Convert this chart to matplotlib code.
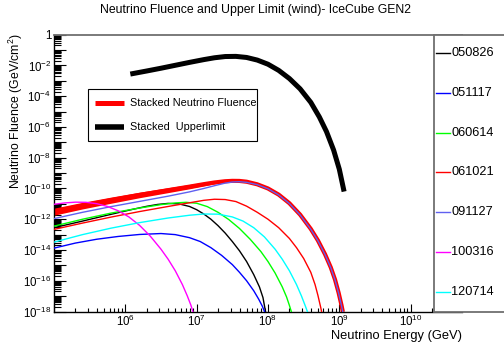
import numpy as np
import matplotlib
import matplotlib.pyplot as plt
from matplotlib.lines import Line2D
from matplotlib.patches import Rectangle
from matplotlib.ticker import FixedLocator, LogLocator, FuncFormatter, NullFormatter

plt.rcParams['font.family'] = ['Liberation Sans', 'DejaVu Sans']
plt.rcParams['mathtext.fontset'] = 'custom'
plt.rcParams['mathtext.rm'] = 'Liberation Sans'
plt.rcParams['mathtext.it'] = 'Liberation Sans'

# ================= data (log10 E [GeV], log10 E^2 dN/dE [GeV/cm^2]) =================
grb_names = ['050826', '051117', '060614', '061021', '091127', '100316', '120714']
grb_colors = ['#000000', '#0000ff', '#00ff00', '#ff0000', '#6060f0', '#ff00ff', '#00ffff']

logE_050826 = [5.0, 5.4, 5.8, 6.1, 6.3, 6.45, 6.6, 6.75, 6.9, 7.0, 7.1, 7.2, 7.3, 7.4, 7.5, 7.6,
               7.7, 7.8, 7.88, 7.93, 7.965]
logF_050826 = [-12.55, -12.12, -11.68, -11.36, -11.16, -11.04, -10.97, -11.0, -11.17, -11.38, -11.66,
               -12.0, -12.42, -12.9, -13.45, -14.05, -14.75, -15.6, -16.4, -17.1, -18.0]

logE_051117 = [5.0, 5.3, 5.6, 5.9, 6.2, 6.5, 6.7, 6.9, 7.05, 7.2, 7.35, 7.5, 7.6, 7.7, 7.8, 7.87, 7.92, 7.955]
logF_051117 = [-13.88, -13.55, -13.3, -13.12, -12.99, -12.93, -13.0, -13.2, -13.45, -13.85, -14.35,
               -14.95, -15.45, -16.0, -16.65, -17.2, -17.65, -18.05]

logE_060614 = [5.0, 5.4, 5.8, 6.2, 6.5, 6.7, 6.85, 7.0, 7.15, 7.3, 7.45, 7.6, 7.75, 7.9, 8.0, 8.1,
               8.2, 8.26, 8.3, 8.33]
logF_060614 = [-12.45, -12.0, -11.6, -11.27, -11.05, -10.94, -10.9, -10.96, -11.18, -11.55, -12.02,
               -12.6, -13.3, -14.1, -14.75, -15.5, -16.4, -17.05, -17.6, -18.05]

logE_061021 = [5.0, 5.4, 5.8, 6.2, 6.6, 6.9, 7.1, 7.25, 7.4, 7.55, 7.7, 7.85, 8.0, 8.15, 8.3, 8.4,
               8.5, 8.6, 8.66, 8.7, 8.74, 8.755]
logF_061021 = [-12.66, -12.25, -11.86, -11.5, -11.17, -10.93, -10.77, -10.7, -10.72, -10.85, -11.15,
               -11.55, -12.0, -12.55, -13.25, -13.85, -14.55, -15.45, -16.25, -16.95, -17.75, -18.1]

logE_091127 = [5.0, 5.4, 5.8, 6.2, 6.6, 6.9, 7.1, 7.25, 7.4, 7.5, 7.6, 7.7, 7.85, 8.0, 8.15, 8.3,
               8.45, 8.6, 8.7, 8.8, 8.88, 8.94, 8.99, 9.03, 9.05]
logF_091127 = [-11.96, -11.55, -11.18, -10.84, -10.5, -10.22, -10.0, -9.82, -9.65, -9.58, -9.56, -9.6,
               -9.75, -10.02, -10.42, -10.98, -11.72, -12.65, -13.4, -14.3, -15.15, -15.95, -16.8,
               -17.6, -18.05]

logE_100316 = [5.0, 5.15, 5.3, 5.45, 5.6, 5.75, 5.9, 6.05, 6.2, 6.35, 6.5, 6.6, 6.7, 6.8, 6.87, 6.92, 6.95]
logF_100316 = [-11.03, -10.94, -10.89, -10.9, -10.99, -11.17, -11.45, -11.85, -12.4, -13.1, -13.95,
               -14.6, -15.35, -16.25, -17.0, -17.6, -18.05]

logE_120714 = [5.0, 5.4, 5.8, 6.2, 6.6, 6.9, 7.1, 7.3, 7.5, 7.65, 7.8, 7.95, 8.1, 8.2, 8.3, 8.4,
               8.47, 8.52, 8.56]
logF_120714 = [-13.49, -13.0, -12.58, -12.22, -11.92, -11.74, -11.66, -11.67, -11.85, -12.12, -12.55,
               -13.15, -13.95, -14.6, -15.35, -16.25, -17.0, -17.6, -18.1]

# stacked neutrino fluence (thick red band)
logE_stack = logE_091127
logF_stack_hi = [-11.28, -10.9, -10.56, -10.24, -9.95, -9.74, -9.6, -9.52, -9.46, -9.45, -9.46, -9.52,
                 -9.71, -9.98, -10.38, -10.94, -11.68, -12.61, -13.36, -14.26, -15.11, -15.91, -16.76,
                 -17.56, -18.01]
logF_stack_lo = [-11.74, -11.33, -10.96, -10.6, -10.27, -10.02, -9.84, -9.7, -9.6, -9.56, -9.56, -9.6,
                 -9.75, -10.02, -10.42, -10.98, -11.72, -12.65, -13.4, -14.3, -15.15, -15.95, -16.8,
                 -17.6, -18.05]

# stacked upper limit
logE_ul = [6.07, 6.3, 6.5, 6.7, 6.9, 7.1, 7.25, 7.4, 7.55, 7.7, 7.85, 8.0, 8.15, 8.3, 8.45, 8.6,
           8.72, 8.82, 8.92, 9.0, 9.067]
logF_ul = [-2.56, -2.36, -2.18, -1.99, -1.8, -1.62, -1.5, -1.42, -1.41, -1.48, -1.65, -1.92, -2.32,
           -2.85, -3.52, -4.4, -5.35, -6.3, -7.5, -8.75, -10.2]

grb_logE = [logE_050826, logE_051117, logE_060614, logE_061021, logE_091127, logE_100316, logE_120714]
grb_logF = [logF_050826, logF_051117, logF_060614, logF_061021, logF_091127, logF_100316, logF_120714]

# ================= figure =================
W, H = 504, 347
fig = plt.figure(figsize=(W / 100, H / 100), dpi=100)


def fx(p):
    return p / W


def fy(p):
    return 1 - p / H


ax_l, ax_r, ax_t, ax_b = 54, 462, 34.7, 311.5
ax = fig.add_axes([fx(ax_l), fy(ax_b), fx(ax_r - ax_l), (ax_b - ax_t) / H])
ax.set_xscale('log')
ax.set_yscale('log')
ax.set_xlim(1e5, 10 ** 10.72)
ax.set_ylim(1e-18, 1)

# stacked fluence
E_s = 10 ** np.array(logE_stack)
hi = np.array(logF_stack_hi)
lo = np.array(logF_stack_lo)
ax.fill_between(E_s, 10 ** lo, 10 ** hi, color='#ff0000', linewidth=0, zorder=2)
ax.plot(E_s, 10 ** ((hi + lo) / 2), color='#ff0000', linewidth=3.0, solid_capstyle='butt', zorder=2)

# individual GRBs
for name, col, le, lf in zip(grb_names, grb_colors, grb_logE, grb_logF):
    ax.plot(10 ** np.array(le), 10 ** np.array(lf), color=col, linewidth=1.0, zorder=3)

# upper limit
ax.plot(10 ** np.array(logE_ul), 10 ** np.array(logF_ul), color='black', linewidth=3.6,
        solid_capstyle='butt', zorder=4)

# axes style (ROOT-like)
for s in ['top', 'right']:
    ax.spines[s].set_color('#707070')
    ax.spines[s].set_linewidth(1.3)
for s in ['left', 'bottom']:
    ax.spines[s].set_color('black')
    ax.spines[s].set_linewidth(1.0)

ax.xaxis.set_major_locator(FixedLocator([10.0 ** k for k in range(5, 11)]))
ax.xaxis.set_minor_locator(LogLocator(base=10, subs=np.arange(2, 10), numticks=100))
ax.xaxis.set_minor_formatter(NullFormatter())
ax.xaxis.set_major_formatter(FuncFormatter(
    lambda v, p: '' if v < 1e6 else r'$10^{%d}$' % round(np.log10(v))))

ax.yaxis.set_major_locator(FixedLocator([10.0 ** k for k in range(-18, 1)]))
ax.yaxis.set_minor_locator(LogLocator(base=10, subs=np.arange(2, 10), numticks=100))
ax.yaxis.set_minor_formatter(NullFormatter())


def ylab(v, p):
    k = int(round(np.log10(v)))
    if k % 2:
        return ''
    return '1' if k == 0 else r'$10^{%d}$' % k


ax.yaxis.set_major_formatter(FuncFormatter(ylab))

ax.tick_params(axis='x', which='major', direction='in', length=6, width=0.8, labelsize=8.3, pad=1.5,
               top=False)
ax.tick_params(axis='x', which='minor', direction='in', length=3, width=0.8, top=False)
ax.tick_params(axis='y', which='major', direction='in', length=8.5, width=0.8, labelsize=8.3, pad=2,
               right=False)
ax.tick_params(axis='y', which='minor', direction='in', length=5, width=0.8, right=False)

# titles
fig.text(fx(256), fy(10), 'Neutrino Fluence and Upper Limit (wind)- IceCube GEN2',
         ha='center', va='center', fontsize=8.8)
fig.text(fx(ax_r), fy(336), 'Neutrino Energy (GeV)', ha='right', va='center', fontsize=9.3)
fig.text(fx(16), fy(33), r'Neutrino Fluence (GeV/cm$^{2}$)', rotation=90,
         ha='center', va='top', fontsize=8.8)

# inset legend
fig.add_artist(Rectangle((fx(88), fy(141)), fx(257 - 88), (141 - 89) / H, transform=fig.transFigure,
                         facecolor='white', edgecolor='black', linewidth=0.8, zorder=5))
fig.add_artist(Line2D([fx(95), fx(124)], [fy(103), fy(103)], color='#ff0000', linewidth=3.6,
                      solid_capstyle='butt', zorder=6))
fig.add_artist(Line2D([fx(95), fx(124)], [fy(127), fy(127)], color='black', linewidth=4.0,
                      solid_capstyle='butt', zorder=6))
fig.text(fx(130), fy(103), 'Stacked Neutrino Fluence', ha='left', va='center', fontsize=7.8, zorder=7)
fig.text(fx(130), fy(127), 'Stacked  Upperlimit', ha='left', va='center', fontsize=7.8, zorder=7)

# GRB legend on the right
fig.add_artist(Rectangle((fx(434), fy(312)), fx(90), (312 - 35) / H, transform=fig.transFigure,
                         facecolor='white', edgecolor='#707070', linewidth=1.3, zorder=5))
for i, (name, col) in enumerate(zip(grb_names, grb_colors)):
    yy = 53 + i * 39.8
    fig.add_artist(Line2D([fx(435.5), fx(450)], [fy(yy), fy(yy)], color=col, linewidth=1.0, zorder=6))
    fig.text(fx(451), fy(yy), name, ha='left', va='center', fontsize=9.2, zorder=7)

fig.savefig('out.png', dpi=100)
